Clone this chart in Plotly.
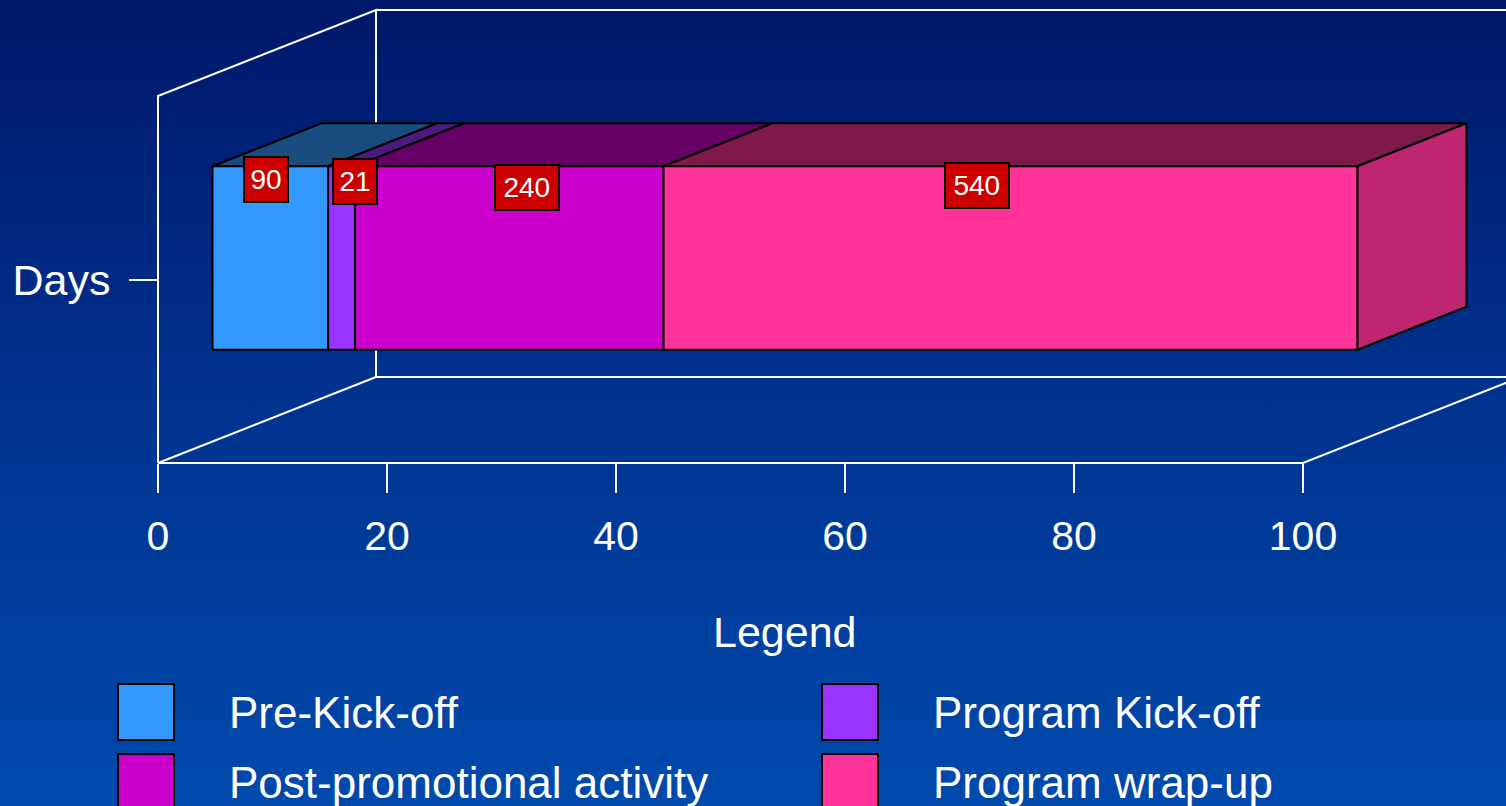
import base64
import plotly.graph_objects as go

# ---------------- data ----------------
categories = ["Days"]
series_names = ["Pre-Kick-off", "Program Kick-off", "Post-promotional activity", "Program wrap-up"]
series_values = [90, 21, 240, 540]
x_tick_values = [0, 20, 40, 60, 80, 100]
legend_title = "Legend"

# ---------------- style ----------------
front_colors = ["#3399FF", "#9933FF", "#CC00CC", "#FF3399"]
label_bg = "#CC0000"
FONT = "Liberation Sans, Arial, sans-serif"
FIG_W, FIG_H = 1506, 806

# projection / layout constants (pixels)
X0_PX = 158.0          # pixel x of value 0 on the front floor edge
PX_PER_UNIT = 11.45    # pixels per percent
FLOOR_PX = 463.0       # pixel y of the front floor edge
BAND_PX = 367.0        # height of the category band (front wall height)
DEPTH_DX_PX, DEPTH_DY_PX = 218.0, 86.0
BAR_LO, BAR_HI = 0.25, 0.75      # bar extent inside the band
D_FRONT, D_BACK = 0.25, 0.75     # bar extent in depth

# per-label nudges (pixels) for the value boxes
label_dx = [-4, 13, 18, -34]
label_dy = [-13, -15, -21, -19]

x_range = [-X0_PX / PX_PER_UNIT, (FIG_W - X0_PX) / PX_PER_UNIT]
y_range = [-(FIG_H - FLOOR_PX) / BAND_PX, FLOOR_PX / BAND_PX]
DX = DEPTH_DX_PX / PX_PER_UNIT
DY = DEPTH_DY_PX / BAND_PX


def proj(x, y, d):
    return x + d * DX, y + d * DY


def shade(hex_color, f):
    h = hex_color.lstrip("#")
    r, g, b = (int(h[i:i + 2], 16) for i in (0, 2, 4))
    return "#%02x%02x%02x" % (int(r * f), int(g * f), int(b * f))


def poly(points):
    xs = [p[0] for p in points] + [points[0][0]]
    ys = [p[1] for p in points] + [points[0][1]]
    return xs, ys


fig = go.Figure()

# ---------------- walls / floor ----------------
xmin, xmax = x_tick_values[0], x_tick_values[-1]
wall_pts = [
    [(xmin, 0), (xmin, 1), proj(xmin, 1, 1), proj(xmin, 0, 1), (xmin, 0)],
    [proj(xmin, 1, 1), proj(xmax, 1, 1), proj(xmax, 0, 1), proj(xmin, 0, 1)],
    [(xmin, 0), (xmax, 0), proj(xmax, 0, 1)],
]
wx, wy = [], []
for seg in wall_pts:
    wx += [p[0] for p in seg] + [None]
    wy += [p[1] for p in seg] + [None]
fig.add_trace(go.Scatter(x=wx, y=wy, mode="lines", line=dict(color="white", width=2),
                         hoverinfo="skip", showlegend=False))

# ---------------- stacked 3D bar (100%) ----------------
total = sum(series_values)
pcts = [v / total * 100 for v in series_values]
starts = []
acc = 0.0
for p in pcts:
    starts.append(acc)
    acc += p

for i, (name, a, p, col) in enumerate(zip(series_names, starts, pcts, front_colors)):
    b = a + p
    top = [proj(a, BAR_HI, D_FRONT), proj(b, BAR_HI, D_FRONT), proj(b, BAR_HI, D_BACK), proj(a, BAR_HI, D_BACK)]
    xs, ys = poly(top)
    fig.add_trace(go.Scatter(x=xs, y=ys, mode="lines", fill="toself", fillcolor=shade(col, 0.5),
                             line=dict(color="black", width=2), hoverinfo="skip", showlegend=False))

for i, (name, a, p, col) in enumerate(zip(series_names, starts, pcts, front_colors)):
    b = a + p
    front = [proj(a, BAR_LO, D_FRONT), proj(b, BAR_LO, D_FRONT), proj(b, BAR_HI, D_FRONT), proj(a, BAR_HI, D_FRONT)]
    xs, ys = poly(front)
    fig.add_trace(go.Scatter(x=xs, y=ys, mode="lines", fill="toself", fillcolor=col,
                             line=dict(color="black", width=2), name=name,
                             hovertext=f"{name}: {series_values[i]}", hoverinfo="text", showlegend=False))

end = starts[-1] + pcts[-1]
side = [proj(end, BAR_LO, D_FRONT), proj(end, BAR_LO, D_BACK), proj(end, BAR_HI, D_BACK), proj(end, BAR_HI, D_FRONT)]
xs, ys = poly(side)
fig.add_trace(go.Scatter(x=xs, y=ys, mode="lines", fill="toself", fillcolor=shade(front_colors[-1], 0.75),
                         line=dict(color="black", width=2), hoverinfo="skip", showlegend=False))

# ---------------- value labels ----------------
annotations = []
for i, (v, a, p) in enumerate(zip(series_values, starts, pcts)):
    lx, ly = proj(a + p / 2, BAR_HI, D_FRONT)
    txt = str(v)
    annotations.append(dict(
        x=lx, y=ly, xref="x", yref="y", text=txt, showarrow=False,
        xshift=label_dx[i], yshift=label_dy[i],
        font=dict(family=FONT, size=28, color="white"),
        bgcolor=label_bg, bordercolor="black", borderwidth=2, borderpad=3,
        width=19.5 * len(txt) - 3, height=37, align="center",
        xanchor="center", yanchor="middle",
    ))

# ---------------- legend (custom, large swatches) ----------------
annotations.append(dict(x=785 / FIG_W, y=1 - 632 / FIG_H, xref="paper", yref="paper",
                        text=legend_title, showarrow=False, xanchor="center", yanchor="middle",
                        font=dict(family=FONT, size=43, color="white")))
col_px = [118, 822]
row_px = [684, 754]
SW = 56
shapes = []
for i, (name, col) in enumerate(zip(series_names, front_colors)):
    cx = col_px[i % 2]
    ry = row_px[i // 2]
    shapes.append(dict(type="rect", xref="paper", yref="paper",
                       x0=cx / FIG_W, x1=(cx + SW) / FIG_W,
                       y0=1 - ry / FIG_H, y1=1 - (ry + SW) / FIG_H,
                       fillcolor=col, line=dict(color="black", width=2), layer="above"))
    annotations.append(dict(x=(cx + 109) / FIG_W, y=1 - (ry + 28) / FIG_H, xref="paper", yref="paper",
                            text=name, showarrow=False, xanchor="left", yanchor="middle",
                            font=dict(family=FONT, size=44, color="white")))

# ---------------- background gradient ----------------
svg = (
    f'<svg xmlns="http://www.w3.org/2000/svg" width="{FIG_W}" height="{FIG_H}" preserveAspectRatio="none">'
    '<defs><linearGradient id="g" x1="0" y1="0" x2="0" y2="1">'
    '<stop offset="0" stop-color="#00186a"/>'
    '<stop offset="0.5" stop-color="#00338f"/>'
    '<stop offset="1" stop-color="#004aad"/>'
    '</linearGradient></defs>'
    f'<rect width="{FIG_W}" height="{FIG_H}" fill="url(#g)"/></svg>'
)
bg_src = "data:image/svg+xml;base64," + base64.b64encode(svg.encode()).decode()

fig.update_layout(
    width=FIG_W, height=FIG_H,
    margin=dict(l=0, r=0, t=0, b=0),
    paper_bgcolor="#00318b",
    plot_bgcolor="rgba(0,0,0,0)",
    showlegend=False,
    annotations=annotations,
    shapes=shapes,
    images=[dict(source=bg_src, xref="paper", yref="paper", x=0, y=1, sizex=1, sizey=1,
                 xanchor="left", yanchor="top", sizing="stretch", layer="below")],
    xaxis=dict(range=x_range, domain=[0, 1], anchor="free", position=1 - FLOOR_PX / FIG_H,
               tickvals=x_tick_values, ticktext=[str(t) for t in x_tick_values],
               ticks="outside", ticklen=29, tickwidth=2, tickcolor="white",
               ticklabelstandoff=8,
               tickfont=dict(family=FONT, size=41, color="white"),
               showgrid=False, zeroline=False, showline=False, fixedrange=True),
    yaxis=dict(range=y_range, domain=[0, 1], anchor="free", position=X0_PX / FIG_W,
               tickvals=[0.5], ticktext=categories,
               ticks="outside", ticklen=29, tickwidth=2, tickcolor="white",
               ticklabelstandoff=10,
               tickfont=dict(family=FONT, size=43, color="white"),
               showgrid=False, zeroline=False, showline=False, fixedrange=True),
)

fig.write_html("out.html")
